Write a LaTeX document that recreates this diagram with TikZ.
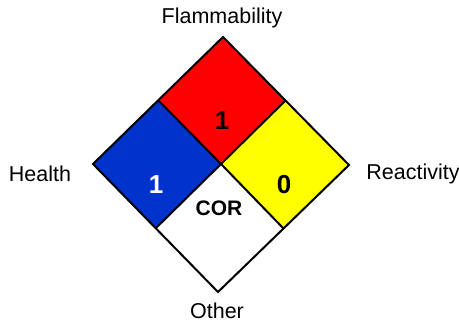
\documentclass[tikz,border=0pt]{standalone}
\usepackage{fontspec}
\setmainfont{Liberation Sans}
\definecolor{nfred}{HTML}{FF0000}
\definecolor{nfblue}{HTML}{0033CC}
\definecolor{nfyellow}{HTML}{FFFF00}
\begin{document}
\begin{tikzpicture}[x=1pt,y=-1pt,
  cell/.style={draw=black,line width=2pt,line join=miter},
  lbl/.style={font=\fontsize{21.5}{25}\selectfont,inner sep=0pt},
  num/.style={font=\fontsize{26}{30}\selectfont\bfseries,inner sep=0pt},
  cor/.style={font=\fontsize{21}{25}\selectfont\bfseries,inner sep=0pt}]
\useasboundingbox[fill=white] (0,0) rectangle (459,322);
\coordinate (T) at (223,37);
\coordinate (L) at (93,164);
\coordinate (R) at (349,165);
\coordinate (B) at (218,292);
\coordinate (C) at (221,164);
\coordinate (TL) at (158,100);
\coordinate (TR) at (285,101);
\coordinate (BL) at (156,228);
\coordinate (BR) at (284,229);
\fill[white] (C) -- (BL) -- (B) -- (BR) -- cycle;
\fill[nfred] (T) -- (TL) -- (C) -- (TR) -- cycle;
\fill[nfblue] (TL) -- (L) -- (BL) -- (C) -- cycle;
\fill[nfyellow] (TR) -- (C) -- (BR) -- (R) -- cycle;
\draw[cell] (T) -- (L) -- (B) -- (R) -- cycle;
\draw[cell] (TL) -- (C) -- (BR);
\draw[cell] (TR) -- (C) -- (BL);
\node[num] (flam) at (222,121) {1};
\node[num,text=white] (health) at (156,185) {1};
\node[num] (react) at (284,185) {0};
\node[cor] (other) at (219,208) {COR};
\node[lbl] (lflam) at (222,18) {Flammability};
\node[lbl] (lhealth) at (40,174) {Health};
\node[lbl] (lreact) at (413,174) {Reactivity};
\node[lbl] (lother) at (217,311) {Other};
\end{tikzpicture}
\end{document}
